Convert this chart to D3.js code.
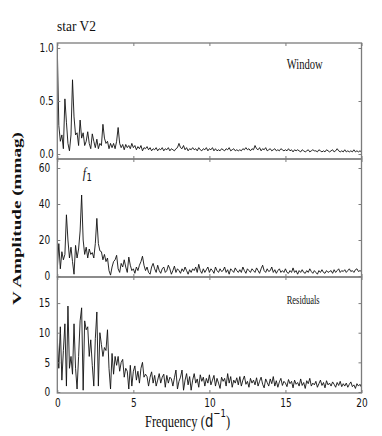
<!DOCTYPE html>
<html>
<head>
<meta charset="utf-8">
<script src="https://cdn.jsdelivr.net/npm/d3@7"></script>
<style>
  html, body { margin: 0; padding: 0; background: #fff; }
  svg { display: block; }
</style>
</head>
<body>
<svg id="chart" width="382" height="436"></svg>
<script>
// frequency grid, d^-1 (step 0.1)
const FREQ = d3.range(201).map(i => i / 10)

// window function amplitude
const WINDOW_AMP = [
  1.00, 0.27, 0.12, 0.18, 0.05, 0.52, 0.30, 0.10, 0.03, 0.18,
  0.70, 0.35, 0.18, 0.20, 0.08, 0.32, 0.15, 0.20, 0.08, 0.12,
  0.21, 0.10, 0.05, 0.19, 0.12, 0.06, 0.14, 0.05, 0.10, 0.08,
  0.28, 0.15, 0.10, 0.12, 0.05, 0.10, 0.06, 0.10, 0.05, 0.12,
  0.25, 0.10, 0.06, 0.09, 0.04, 0.09, 0.06, 0.08, 0.05, 0.10,
  0.06, 0.08, 0.04, 0.07, 0.05, 0.08, 0.03, 0.06, 0.05, 0.07,
  0.04, 0.06, 0.03, 0.05, 0.04, 0.06, 0.03, 0.05, 0.04, 0.06,
  0.03, 0.05, 0.04, 0.06, 0.03, 0.05, 0.04, 0.03, 0.05, 0.06,
  0.10, 0.06, 0.05, 0.08, 0.04, 0.06, 0.03, 0.05, 0.04, 0.06,
  0.04, 0.05, 0.03, 0.06, 0.04, 0.03, 0.05, 0.04, 0.06, 0.03,
  0.05, 0.04, 0.06, 0.03, 0.05, 0.03, 0.04, 0.03, 0.05, 0.04,
  0.03, 0.05, 0.04, 0.06, 0.03, 0.04, 0.05, 0.03, 0.04, 0.03,
  0.04, 0.03, 0.05, 0.04, 0.06, 0.04, 0.05, 0.03, 0.05, 0.04,
  0.08, 0.05, 0.04, 0.06, 0.03, 0.05, 0.04, 0.06, 0.03, 0.04,
  0.05, 0.03, 0.04, 0.05, 0.03, 0.04, 0.03, 0.05, 0.04, 0.03,
  0.04, 0.03, 0.05, 0.03, 0.04, 0.02, 0.04, 0.03, 0.04, 0.03,
  0.02, 0.04, 0.03, 0.02, 0.03, 0.04, 0.02, 0.03, 0.04, 0.03,
  0.03, 0.02, 0.04, 0.03, 0.02, 0.03, 0.02, 0.04, 0.03, 0.02,
  0.03, 0.04, 0.02, 0.03, 0.05, 0.03, 0.02, 0.03, 0.02, 0.04,
  0.02, 0.03, 0.02, 0.03, 0.02, 0.04, 0.02, 0.03, 0.02, 0.03,
  0.02
]

// V amplitude spectrum, mmag
const V_AMP = [
  4, 18, 4, 13.5, 9, 12, 34, 20, 10, 16,
  8, 1, 17, 10, 15, 25, 45, 20, 12, 16,
  10, 15, 12, 13, 10, 18, 32, 18, 14, 13.5,
  9, 12, 8, 10, 3, 0.5, 5, 8, 9, 11.5,
  4, 2, 7, 5, 9, 5, 2, 10.5, 6, 3,
  4, 1.5, 5, 3, 6, 8, 11, 6, 3, 5,
  2, 1, 5, 7, 4, 2, 6, 3, 1.5, 4,
  5, 2, 3, 6, 4, 1, 3, 5.5, 2, 4,
  3, 1.5, 4, 2.5, 5, 3, 1, 3.5, 2, 4,
  3, 5, 2, 6.5, 3, 1.5, 4, 2, 3.5, 5,
  2, 4, 3, 1.5, 5, 3, 2, 4, 2.5, 3,
  5, 2, 3.5, 1, 4, 3, 2, 4.5, 3, 2,
  3.5, 2, 5, 3, 1.5, 4, 3, 2, 4, 3,
  2, 4.5, 3, 1.5, 4, 6, 3, 2, 4, 2.5,
  3, 5, 2, 3.5, 1.5, 3, 4, 2, 3, 2,
  4, 2, 1.5, 3, 2, 4.5, 2, 3, 1, 3,
  2, 3.5, 2, 1.5, 3, 2, 4, 2.5, 1.5, 3,
  2, 1, 3, 2, 3.5, 2, 1.5, 3, 2, 2.5,
  3, 1.5, 3.5, 2, 3, 4, 2, 3, 2.5, 3.5,
  2, 3, 4, 2.5, 3, 2, 3.5, 4, 2.5, 3,
  2.5
]

// residuals after prewhitening, mmag
const RESID_AMP = [
  9, 4, 11, 2, 7, 11.5, 1, 14.5, 4, 6,
  3, 11.5, 4, 0.5, 6, 12, 14.2, 0.3, 12, 10.5,
  11, 6, 8.8, 4.5, 1, 9, 13.5, 1, 10, 8,
  6, 7.5, 7, 10.5, 4, 0.5, 6.5, 3, 6, 4.5,
  6, 3.5, 5, 5.5, 2.5, 4, 3.5, 0.5, 4.5, 1,
  3.5, 4.4, 2, 3.5, 1.5, 4, 5, 2.5, 3, 2.6,
  1, 2.5, 3.4, 1.5, 2.8, 1, 2, 3.1, 1.5, 2.5,
  3, 0.8, 2.8, 1.5, 2.5, 2.2, 1, 2.4, 3.7, 0.5,
  1.8, 2.5, 3.7, 0.3, 2, 3.1, 1.2, 2.6, 0.3, 2,
  3.1, 1.5, 2.2, 0.8, 2.9, 1.8, 2.5, 1, 2.3, 1.5,
  2.9, 1.2, 2, 2.8, 1, 2.3, 1.5, 0.6, 2.5, 1.8,
  2.3, 1, 3.1, 1.5, 2.6, 0.8, 2, 1.5, 2.4, 1.2,
  2.6, 1, 2, 2.7, 1.3, 1.8, 0.8, 2.3, 1.5, 2,
  1.2, 2.4, 1, 1.8, 2.5, 1.3, 0.7, 2.2, 1.6, 1,
  2.2, 1.4, 2.6, 1, 1.9, 0.8, 1.7, 2.3, 1.1, 1.8,
  1.5, 0.9, 2.1, 1.4, 1.8, 0.7, 2, 1.3, 1.6, 1,
  2.2, 1.1, 1.6, 0.6, 1.9, 1.4, 2.3, 1, 1.5, 1.2,
  1.8, 0.8, 1.4, 2, 1.1, 1.6, 0.7, 1.9, 1.2, 1.5,
  1, 1.7, 1.3, 0.8, 1.6, 1.1, 1.8, 0.9, 1.4, 1,
  1.5, 0.8, 1.3, 1.7, 0.9, 1.2, 0.6, 1.4, 1, 1.3,
  0.8
]

const X_TICKS = [0, 5, 10, 15, 20]
const WINDOW_TICKS = [0, 0.5, 1]
const V_TICKS = [0, 20, 40, 60]
const RESID_TICKS = [0, 5, 10, 15]

const AXIS_GREY = '#7c7c7c'
const INK = '#111'
const SQUEEZE = 0.75 // text in the figure is narrow

const svg = d3.select('#chart')
const x = d3.scaleLinear().domain([0, 20]).range([57.3, 361.5])

const PANELS = [
  { top: 43, bottom: 159, domain: [-0.047, 1.047], ticks: WINDOW_TICKS, fmt: d3.format('.1f'), values: WINDOW_AMP, pad: 3.5 },
  { top: 159, bottom: 277, domain: [-0.55, 65], ticks: V_TICKS, fmt: d3.format('d'), values: V_AMP, pad: 7 },
  { top: 277, bottom: 393, domain: [-0.17, 19.4], ticks: RESID_TICKS, fmt: d3.format('d'), values: RESID_AMP, pad: 7 },
]

const styleAxis = sel => {
  sel.select('.domain').remove()
  sel.selectAll('.tick line').attr('stroke', AXIS_GREY)
  sel.attr('font-family', '"DejaVu Sans", sans-serif').attr('font-size', 12)
  sel.selectAll('text').attr('fill', INK)
}

PANELS.forEach((p, i) => {
  const y = d3.scaleLinear().domain(p.domain).range([p.bottom, p.top])
  const g = svg.append('g')

  g.append('clipPath').attr('id', `clip${i}`)
    .append('rect')
    .attr('x', x(0)).attr('y', p.top)
    .attr('width', x(20) - x(0)).attr('height', p.bottom - p.top)

  const line = d3.line()
    .x((d, j) => x(FREQ[j]))
    .y(d => y(d))

  g.append('path')
    .datum(p.values)
    .attr('clip-path', `url(#clip${i})`)
    .attr('fill', 'none')
    .attr('stroke', INK)
    .attr('stroke-width', 0.9)
    .attr('stroke-linejoin', 'round')
    .attr('d', line)

  // inward ticks on all four sides
  const left = g.append('g')
    .attr('transform', `translate(${x(0)},0)`)
    .call(d3.axisLeft(y).tickValues(p.ticks).tickFormat(p.fmt).tickSize(-3).tickPadding(0))
  styleAxis(left)
  left.selectAll('text')
    .attr('x', -p.pad / SQUEEZE)
    .attr('transform', `scale(${SQUEEZE},1)`)

  const right = g.append('g')
    .attr('transform', `translate(${x(20)},0)`)
    .call(d3.axisRight(y).tickValues(p.ticks).tickFormat('').tickSize(-3))
  styleAxis(right)

  const top = g.append('g')
    .attr('transform', `translate(0,${p.top})`)
    .call(d3.axisTop(x).tickValues(X_TICKS).tickFormat('').tickSize(-3))
  styleAxis(top)

  const last = i === PANELS.length - 1
  const bottom = g.append('g')
    .attr('transform', `translate(0,${p.bottom})`)
    .call(d3.axisBottom(x).tickValues(X_TICKS).tickFormat(last ? d3.format('d') : '').tickSize(-3).tickPadding(5.5))
  styleAxis(bottom)
  bottom.selectAll('text').attr('transform', `scale(${SQUEEZE},1)`)

  g.append('rect')
    .attr('x', x(0)).attr('y', p.top)
    .attr('width', x(20) - x(0)).attr('height', p.bottom - p.top)
    .attr('fill', 'none')
    .attr('stroke', AXIS_GREY)
    .attr('stroke-width', 1.3)
})

const serif = '"Liberation Serif", "Times New Roman", serif'
const sans = '"DejaVu Sans", sans-serif'

// place a text, squeezed horizontally to a measured width
const label = (txt, px, py, width, opts = {}) => {
  const t = svg.append('text')
    .attr('font-family', opts.family || serif)
    .attr('font-size', opts.size || 14)
    .attr('fill', INK)
    .attr('opacity', 0.999)
    .text(txt)
  if (opts.italic) t.attr('font-style', 'italic')
  const natural = t.node().getComputedTextLength()
  t.attr('transform', `translate(${px},${py}) scale(${width / natural},1)`)
  return t
}

label('star V2', 57, 31, 39)
label('Window', 286.7, 69, 36)
label('Residuals', 286.7, 303.5, 33, { size: 13 })

// f1 marker above the main peak
const f1 = svg.append('text')
  .attr('transform', 'translate(82.7,178) scale(0.85,1)')
  .attr('font-family', serif)
  .attr('font-size', 14)
  .attr('fill', INK)
f1.append('tspan').attr('font-style', 'italic').text('f')
f1.append('tspan').attr('font-family', sans).attr('font-size', 10).attr('dx', 0.5).attr('dy', 3).text('1')

// x-axis title
const xt = svg.append('text')
  .attr('transform', 'translate(145,427) scale(0.78,1)')
  .attr('font-family', serif)
  .attr('font-size', 16)
  .attr('fill', INK)
xt.append('tspan').text('Frequency (')
xt.append('tspan').attr('font-family', sans).attr('font-size', 17).text('d')
xt.append('tspan').attr('font-family', sans).attr('font-size', 11).attr('dy', -10).text('\u22121')
xt.append('tspan').attr('dy', 10).text(')')

// y-axis title, stretched along its length like the source
svg.append('text')
  .attr('transform', 'translate(20.5,218.5) rotate(-90)')
  .attr('text-anchor', 'middle')
  .attr('font-family', serif)
  .attr('font-weight', 'bold')
  .attr('font-size', 12.5)
  .attr('fill', INK)
  .attr('textLength', 173)
  .attr('lengthAdjust', 'spacingAndGlyphs')
  .text('V Amplitude (mmag)')
</script>
</body>
</html>
